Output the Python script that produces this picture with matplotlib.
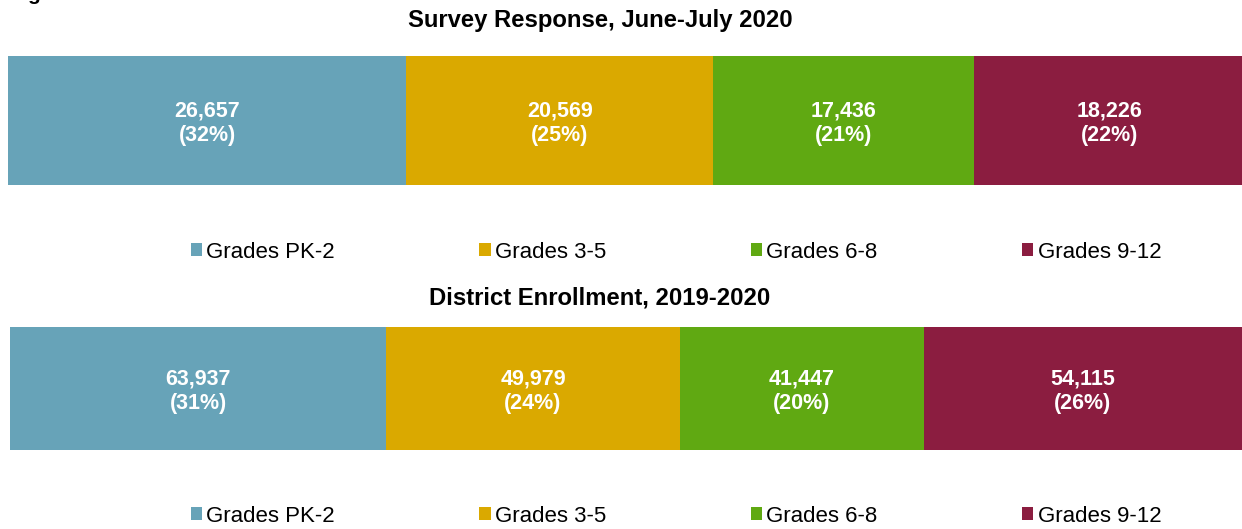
import matplotlib
matplotlib.use("Agg")
import matplotlib.pyplot as plt
from matplotlib.patches import Patch

plt.rcParams['font.family'] = ['Liberation Sans', 'DejaVu Sans']

categories = ["Grades PK-2", "Grades 3-5", "Grades 6-8", "Grades 9-12"]
colors = ["#67A3B8", "#DAA900", "#60A912", "#8B1D40"]

survey_title = "Survey Response, June-July 2020"
survey_values = [26657, 20569, 17436, 18226]

enroll_title = "District Enrollment, 2019-2020"
enroll_values = [63937, 49979, 41447, 54115]

W, H = 1242, 529
fig = plt.figure(figsize=(W / 100, H / 100), dpi=100)


def px_axes(x0, y0, x1, y1):
    return fig.add_axes([x0 / W, 1 - y1 / H, (x1 - x0) / W, (y1 - y0) / H])


def draw_panel(ax_box, title, title_y, values, legend_y):
    ax = px_axes(*ax_box)
    total = sum(values)
    left = 0
    for cat, v, c in zip(categories, values, colors):
        ax.barh(0, v, left=left, height=1.0, color=c, edgecolor='none')
        pct = round(100 * v / total)
        ax.text(left + v / 2, -0.02, f"{v:,}\n({pct}%)", ha='center', va='center',
                color='white', fontsize=15.5, fontweight='bold', linespacing=1.2)
        left += v
    ax.set_xlim(0, total)
    ax.set_ylim(-0.5, 0.5)
    ax.axis('off')
    fig.text(600 / W, 1 - title_y / H, title, ha='center', va='center',
             fontsize=17.2, fontweight='bold', color='black')
    handles = [Patch(facecolor=c, edgecolor='none') for c in colors]
    fig.legend(handles, categories, loc='center', ncol=4,
               bbox_to_anchor=(676 / W, 1 - legend_y / H),
               frameon=False, fontsize=16, handlelength=0.5, handleheight=0.5,
               handletextpad=0.2, columnspacing=6.5, borderpad=0, borderaxespad=0)
    return ax


draw_panel((8, 56, 1246, 185), survey_title, 20, survey_values, 252)
draw_panel((10, 327, 1242, 450), enroll_title, 298, enroll_values, 516)

fig.text(27 / W, 1.0, "g", ha='left', va='baseline', fontsize=15,
         fontweight='bold', color='black')

fig.savefig("out.png", dpi=100)
